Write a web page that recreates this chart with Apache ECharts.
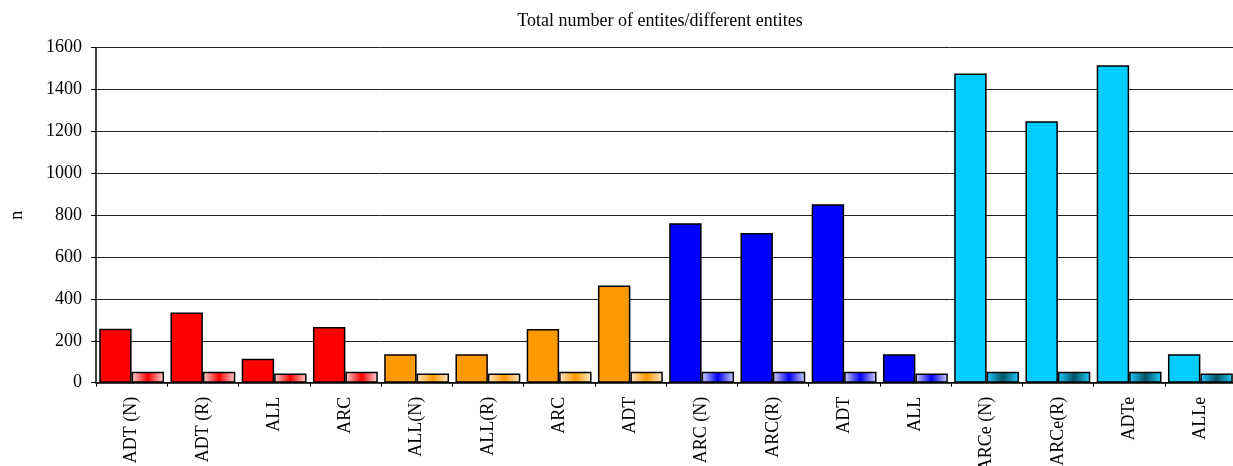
<!DOCTYPE html>
<html>
<head>
<meta charset="utf-8">
<style>html,body{margin:0;padding:0;background:#fff;}#c{width:1233px;height:466px;}</style>
<script src="https://cdn.jsdelivr.net/npm/echarts@6/dist/echarts.min.js"></script>
</head>
<body>
<div id="c"></div>
<script>
var categories = ['ADT (N)','ADT (R)','ALL','ARC','ALL(N)','ALL(R)','ARC','ADT','ARC (N)','ARC(R)','ADT','ALL','ARCe (N)','ARCe(R)','ADTe','ALLe'];
var totalEntities = [258, 335, 114, 266, 136, 136, 257, 464, 762, 715, 852, 136, 1477, 1249, 1516, 136];
var differentEntities = [52, 52, 44, 52, 44, 44, 52, 52, 52, 52, 52, 44, 52, 52, 52, 44];
var groupOf = [0,0,0,0,1,1,1,1,2,2,2,2,3,3,3,3];
var yTicks = {min: 0, max: 1600, interval: 200};

var solid = ['#FF0000', '#FF9900', '#0000FF', '#00CCFF'];
var gradEdge = ['#FFD6D6', '#FFEBD0', '#D4D4FF', '#22CCFF'];
var gradMid = ['#FF0000', '#FF9900', '#0000FF', '#005566'];

function grad(g) {
  return new echarts.graphic.LinearGradient(0, 0, 1, 0, [
    {offset: 0, color: gradEdge[g]},
    {offset: 0.5, color: gradMid[g]},
    {offset: 1, color: gradEdge[g]}
  ]);
}

var font = '"Liberation Serif", "Times New Roman", serif';
var chart = echarts.init(document.getElementById('c'), null, {renderer: 'canvas'});
chart.setOption({
  animation: false,
  backgroundColor: '#fff',
  title: {
    text: 'Total number of entites/different entites',
    left: 655, top: 7, textAlign: 'center',
    textStyle: {fontFamily: font, fontSize: 18, fontWeight: 'normal', color: '#000'}
  },
  grid: {left: 96, top: 47.7, width: 1140, height: 335, containLabel: false, outerBoundsMode: 'none'},
  xAxis: {
    type: 'category',
    data: categories,
    axisLine: {lineStyle: {color: '#000', width: 1.5}},
    axisTick: {show: true, length: 4, lineStyle: {color: '#000', width: 1}},
    axisLabel: {rotate: 90, margin: 14, interval: 0, fontFamily: font, fontSize: 18, color: '#000'}
  },
  yAxis: {
    type: 'value',
    min: yTicks.min, max: yTicks.max, interval: yTicks.interval,
    name: 'n', nameLocation: 'middle', nameRotate: 90, nameGap: 70,
    nameTextStyle: {fontFamily: font, fontSize: 18, color: '#000'},
    axisLine: {show: true, lineStyle: {color: '#000', width: 1.5}},
    axisTick: {show: true, length: 5, lineStyle: {color: '#000'}},
    axisLabel: {margin: 14, fontFamily: font, fontSize: 18, color: '#000', formatter: function (v) { return String(v); }},
    splitLine: {show: true, lineStyle: {color: '#222', width: 1}}
  },
  series: [
    {
      type: 'bar', name: 'total',
      barGap: '0%', barCategoryGap: '9%',
      data: totalEntities.map(function (v, i) {
        return {value: v, itemStyle: {color: solid[groupOf[i]]}};
      }),
      itemStyle: {borderColor: '#000', borderWidth: 1.5}
    },
    {
      type: 'bar', name: 'different',
      barGap: '0%', barCategoryGap: '9%',
      data: differentEntities.map(function (v, i) {
        return {value: v, itemStyle: {color: grad(groupOf[i])}};
      }),
      itemStyle: {borderColor: '#000', borderWidth: 1.5}
    }
  ]
});
</script>
</body>
</html>
